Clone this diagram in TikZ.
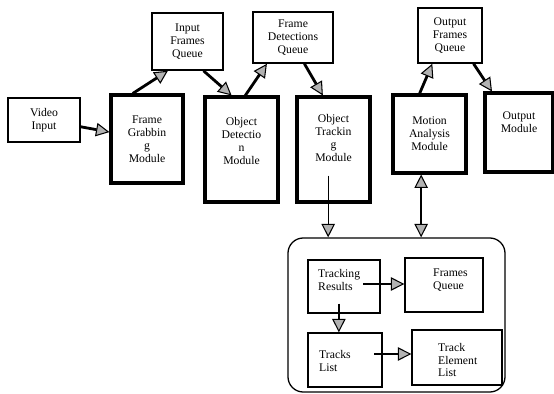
\documentclass[tikz,border=0pt]{standalone}
\usepackage{fontspec}
\setmainfont{Liberation Serif}
\usetikzlibrary{arrows.meta,calc}

\tikzset{
  tipg/.tip={Triangle[length=11.5pt,width=11.5pt,fill=gray!60,line width=0.9pt]},
  qbox/.style={draw, line width=1.3pt, inner sep=0pt, align=center, font=\fontsize{10}{11}\selectfont},
  modbox/.style={qbox, line width=2.6pt},
  sbox/.style={qbox, line width=1.1pt},
  lbl/.style={inner sep=0pt, align=center, font=\fontsize{10}{11}\selectfont},
  flow/.style={line width=2.4pt, -tipg},
  feed/.style={line width=1.1pt, -tipg},
  inner/.style={line width=1.6pt, -tipg},
}

\begin{document}
\begin{tikzpicture}[x=0.03cm,y=-0.03cm]
\useasboundingbox (0,0) rectangle (554,394);
% top row
\node[qbox, minimum width=2.16cm, minimum height=1.32cm] (vid) at (44,120) {Video\\Input};
\node[modbox, minimum width=2.16cm, minimum height=2.64cm] (grab) at (147,139) {Frame\\Grabbin\\g\\Module};
\node[qbox, minimum width=2.13cm, minimum height=1.71cm] (inq) at (187.5,41.5) {Input\\Frames\\Queue};
\node[modbox, minimum width=2.19cm, minimum height=3.15cm] (det) at (241.5,149.5) {};
\node[lbl] (det-l) at (241.5,141) {Object\\Detectio\\n\\Module};
\node[qbox, minimum width=2.40cm, minimum height=1.53cm] (fdq) at (293,37.5) {Frame\\Detections\\Queue};
\node[modbox, minimum width=2.19cm, minimum height=3.15cm] (track) at (333.5,149.5) {};
\node[lbl] (track-l) at (333.5,138) {Object\\Trackin\\g\\Module};
\node[modbox, minimum width=2.19cm, minimum height=2.34cm] (motion) at (429.5,134) {Motion\\Analysis\\Module};
\node[qbox, minimum width=1.92cm, minimum height=1.65cm] (ofq) at (450,35.5) {Output\\Frames\\Queue};
\node[modbox, minimum width=2.04cm, minimum height=2.37cm] (outm) at (519,132.5) {};
\node[lbl] (outm-l) at (519,122) {Output\\Module};

% tracking block
\node[draw, line width=1.1pt, rounded corners=13pt, minimum width=6.51cm, minimum height=4.62cm] (trk) at (396.5,315) {};
\node[sbox, minimum width=2.16cm, minimum height=1.59cm] (tres) at (344,286.5) {};
\node[lbl, align=left, anchor=west] (tres-l) at (318,280) {Tracking\\Results};
\node[sbox, minimum width=2.34cm, minimum height=1.62cm] (fq) at (444,285) {};
\node[lbl, align=left, anchor=west] (fq-l) at (433,280) {Frames\\Queue};
\node[sbox, minimum width=2.22cm, minimum height=1.62cm] (tl) at (345,360) {};
\node[lbl, align=left, anchor=west] (tl-l) at (319,361) {Tracks\\List};
\node[sbox, minimum width=2.70cm, minimum height=1.65cm] (tel) at (457,357.5) {};
\node[lbl, align=left, anchor=west] (tel-l) at (438,360) {Track\\Element\\List};

% data flow
\draw[flow] (vid) -- (grab);
\draw[flow] ($(grab.north west)!0.31!(grab.north east)$) -- ($(inq.south west)!0.23!(inq.south east)$);
\draw[flow] ($(inq.south west)!0.72!(inq.south east)$) -- ($(det.north west)!0.37!(det.north east)$);
\draw[flow] ($(det.north west)!0.55!(det.north east)$) -- ($(fdq.south west)!0.18!(fdq.south east)$);
\draw[flow] ($(fdq.south west)!0.64!(fdq.south east)$) -- ($(track.north west)!0.36!(track.north east)$);
\draw[flow] ($(motion.north west)!0.37!(motion.north east)$) -- ($(ofq.south west)!0.23!(ofq.south east)$);
\draw[flow] ($(ofq.south west)!0.86!(ofq.south east)$) -- ($(outm.north west)!0.12!(outm.north east)$);

\coordinate (trk-in) at ($(track.south west)!0.43!(track.south east)+(0,-28)$);
\draw[feed] (trk-in) -- (trk-in |- trk.north);
\coordinate (mot-in) at ($(motion.south west)!0.39!(motion.south east)$);
\draw[feed, tipg-tipg] (mot-in) -- (mot-in |- trk.north);

\draw[inner] (tres-l.east |- fq) ++(3,-1) coordinate (r1) -- (r1 -| fq.west);
\coordinate (r2) at ($(tres.south west)!0.43!(tres.south east)+(0,-10)$);
\draw[inner] (r2) -- (r2 |- tl.north);
\coordinate (r3) at ($(tl.west)+(67,-6)$);
\draw[inner] (r3) -- (r3 -| tel.west);
\end{tikzpicture}
\end{document}
